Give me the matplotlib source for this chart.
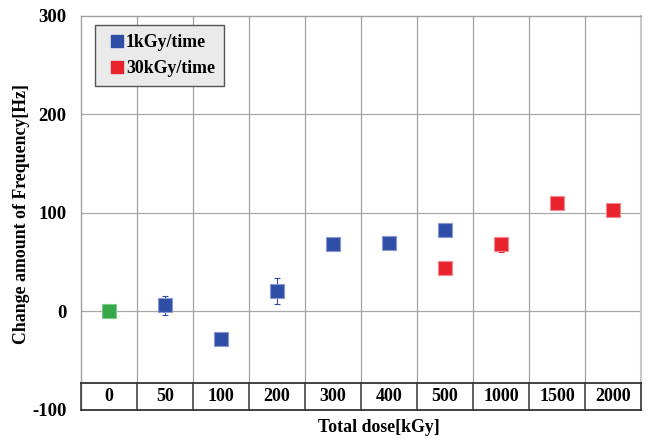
import matplotlib
matplotlib.use("Agg")
import matplotlib.pyplot as plt
import numpy as np

plt.rcParams['font.family'] = ['Liberation Serif', 'DejaVu Serif']
plt.rcParams['font.weight'] = 'bold'

# Dose categories (kGy) shown along the bottom row
doses = ["0", "50", "100", "200", "300", "400", "500", "1000", "1500", "2000"]

# Reference point (no irradiation)
ref_idx = [0]
ref_val = [0.0]

# 1 kGy/time series
low_idx = [1, 2, 3, 4, 5, 6]
low_val = [6.1, -27.7, 20.6, 68.7, 69.3, 82.2]
low_err = [9.3, 5.5, 13.5, 2.0, 1.5, 6.5]

# 30 kGy/time series
high_idx = [6, 7, 8, 9]
high_val = [44.0, 68.0, 110.0, 102.5]
high_err = [6.5, 7.8, 2.0, 1.5]

yticks = [-100, 0, 100, 200, 300]

blue = '#2F4FA6'
red = '#E8232E'
green = '#35A84A'

fig = plt.figure(figsize=(6.52, 4.42), dpi=100)
ax = fig.add_axes([81/652, 1-410/442, 560/652, (410-15.7)/442])

n = len(doses)
ax.set_xlim(0, n)
ax.set_ylim(-100, 300)
table_top = -73

# grid: vertical separators and horizontal lines
for k in range(1, n):
    ax.plot([k, k], [table_top, 300], color='#A0A0A0', lw=0.9, zorder=1)
for yv in [0, 100, 200]:
    ax.axhline(yv, color='#A8A8A8', lw=0.9, zorder=1)

# category table under the plot area
ax.plot([0, n], [table_top, table_top], color='#333333', lw=1.3, zorder=3, clip_on=False)
ax.plot([0, n], [-100, -100], color='#333333', lw=1.3, zorder=3, clip_on=False)
for k in range(0, n + 1):
    ax.plot([k, k], [-100, table_top], color='#333333', lw=1.1, zorder=3, clip_on=False)
for k, lab in enumerate(doses):
    ax.text(k + 0.5, (table_top - 100) / 2, lab, ha='center', va='center',
            fontsize=13, fontweight='bold')

for s in ['left', 'top']:
    ax.spines[s].set_color('#A0A0A0')
    ax.spines[s].set_linewidth(1.0)
ax.spines['right'].set_color('#C8C8C8')
ax.spines['right'].set_linewidth(1.5)
ax.spines['bottom'].set_visible(False)

ax.set_xticks([])
ax.set_yticks(yticks)
ax.set_yticklabels([str(v) for v in yticks], fontsize=13.5, fontweight='bold')
ax.tick_params(axis='y', length=0, pad=10.5)

ms = 9.5
x_ref = np.array(ref_idx) + 0.5
x_low = np.array(low_idx) + 0.5
x_high = np.array(high_idx) + 0.5

ax.plot(x_ref, ref_val, 's', color=green, ms=ms, mec='#7FCB8A', mew=0.8, zorder=5)
ax.errorbar(x_low, low_val, yerr=low_err, fmt='s', color=blue, ms=ms,
            mec='#8A9AD0', mew=0.8, ecolor=blue, elinewidth=0.8, capsize=2.5,
            capthick=0.8, zorder=5, label='1kGy/time')
ax.errorbar(x_high, high_val, yerr=high_err, fmt='s', color=red, ms=ms,
            mec='#F08A90', mew=0.8, ecolor=red, elinewidth=0.8, capsize=2.5,
            capthick=0.8, zorder=5, label='30kGy/time')

fig.text(22/652, 1 - 213.5/442, 'Change amount of Frequency[Hz]', rotation=90,
         ha='center', va='center', fontsize=12.8, fontweight='bold')
fig.text((318 + 439) / 2 / 652, 1 - 427 / 442, 'Total dose[kGy]', ha='center', va='center',
         fontsize=12.8, fontweight='bold')

h1 = plt.Line2D([], [], marker='s', ls='none', color=blue, ms=8.6)
h2 = plt.Line2D([], [], marker='s', ls='none', color=red, ms=8.6)
leg = ax.legend([h1, h2], ['1kGy/time', '30kGy/time'], loc='upper left',
                bbox_to_anchor=(14/560, 1 - 9.3/394.3), borderaxespad=0,
                frameon=True, fancybox=False, handlelength=1.45,
                handletextpad=-0.2, borderpad=0.5, labelspacing=0.5,
                prop={'weight': 'bold', 'size': 12.8})
leg.get_frame().set_facecolor('#EAEAEA')
leg.get_frame().set_edgecolor('#555555')
leg.get_frame().set_linewidth(1.0)
leg.get_frame().set_alpha(1)
leg.set_zorder(6)

fig.savefig('out.png', dpi=100)
